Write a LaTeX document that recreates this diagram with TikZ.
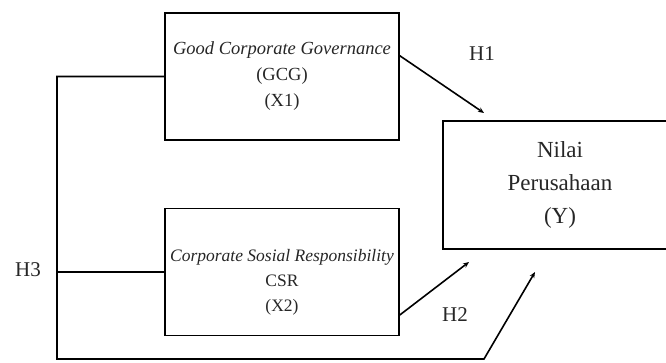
\documentclass[tikz,border=0pt]{standalone}
\usepackage{fontspec}
\setmainfont{Liberation Serif}
\usetikzlibrary{positioning,arrows.meta}

\begin{document}
\begin{tikzpicture}[x=1pt, y=-1pt, node distance=67pt, line width=1.6pt]

\tikzstyle{kotak}=[rectangle, draw=black, minimum width=234pt, minimum height=127pt, align=center, inner sep=2pt, text=black!85]
\tikzstyle{panah}=[-{Stealth[length=6pt,width=5pt]}]
\tikzstyle{hlabel}=[font=\fontsize{21}{24}\selectfont, text=black!85]

\clip (0,0) rectangle (666,362);

\node[kotak, font=\fontsize{18.5}{26}\selectfont] (gcg) at (282,76.5) {\textit{Good Corporate Governance}\\(GCG)\\(X1)};
\node[kotak, below=of gcg, font=\fontsize{17.5}{25}\selectfont] (csr) {\rule{0pt}{32pt}\textit{Corporate Sosial Responsibility}\\CSR\\(X2)};
\node[kotak, minimum height=128pt, font=\fontsize{23}{33}\selectfont] (nilai) at (560,185) {Nilai\\Perusahaan\\(Y)};

\coordinate (sudut) at (57,359);
\coordinate (tekuk) at (484,359);
\coordinate (ujungA) at (484,113);
\coordinate (ujungB) at (469,262);
\coordinate (ujungC) at (535,272);

\draw[panah] (gcg.10) -- (ujungA);
\draw[panah] (csr.-20) -- (ujungB);
\draw[panah] (gcg.west) -| (sudut) -- (tekuk) -- (ujungC);
\draw (csr.west) -- (csr.west -| sudut);

\node[hlabel] (h1) at (482,54) {H1};
\node[hlabel] (h2) at (455,315) {H2};
\node[hlabel] (h3) at (28,270) {H3};

\end{tikzpicture}
\end{document}
